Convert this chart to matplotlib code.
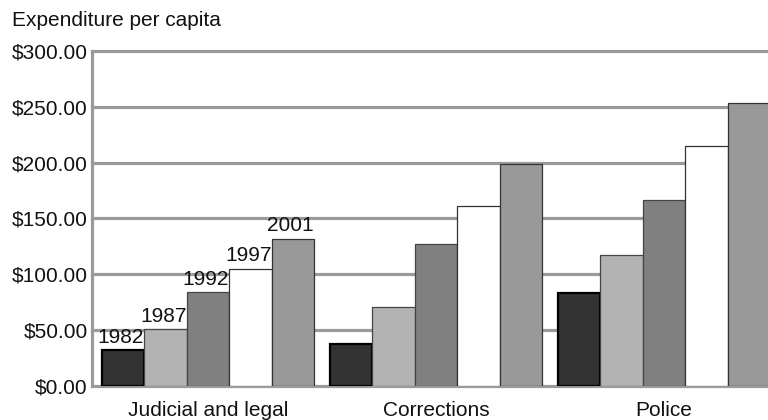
import matplotlib.pyplot as plt
import numpy as np

plt.rcParams['font.family'] = ['Liberation Sans', 'DejaVu Sans']

categories = ["Judicial and legal", "Corrections", "Police"]
years = ["1982", "1987", "1992", "1997", "2001"]
values = {
  "1982": [32, 38, 83],
  "1987": [51, 71, 117],
  "1992": [84, 127, 167],
  "1997": [105, 161, 215],
  "2001": [132, 199, 253],
}
y_ticks = [0, 50, 100, 150, 200, 250, 300]

colors = ["#333333", "#b3b3b3", "#808080", "#ffffff", "#999999"]
edges = ["#000000", "#444444", "#444444", "#333333", "#333333"]
edge_widths = [1.6, 0.9, 0.9, 0.9, 0.9]

FS = 15

def main():
  fig = plt.figure(figsize=(7.68, 4.2), dpi=100)
  ax = fig.add_axes([92 / 768, 1 - 386 / 420, 1 - 92 / 768, (386 - 51) / 420])

  x = np.arange(len(categories))
  width = 0.186

  for i, year in enumerate(years):
    pos = x + (i - 2) * width
    ax.bar(pos, values[year], width=width, color=colors[i],
           edgecolor=edges[i], linewidth=edge_widths[i], zorder=3)
    # year label over the first group only
    ax.text(pos[0] - 0.01, values[year][0] + 3, year, ha='center', va='bottom',
            fontsize=FS, color='#111111', zorder=4)

  ax.set_xlim(-0.509, 2.456)
  ax.set_ylim(0, 300)

  # grid
  ax.set_yticks(y_ticks)
  ax.set_yticklabels([f"${v:.2f}" for v in y_ticks], fontsize=FS, color='#111111')
  ax.yaxis.grid(True, color='#9a9a9a', linewidth=2.3, zorder=0)
  for line in ax.get_ygridlines():
    line.set_clip_on(False)
  ax.set_axisbelow(True)

  ax.set_xticks(x)
  ax.set_xticklabels(categories, fontsize=FS, color='#111111')
  ax.tick_params(axis='both', length=0)
  ax.tick_params(axis='y', pad=3)
  ax.tick_params(axis='x', pad=11)

  for side in ['top', 'right', 'bottom']:
    ax.spines[side].set_visible(False)
  ax.spines['left'].set_color('#9a9a9a')
  ax.spines['left'].set_linewidth(2.3)

  fig.text(12 / 768, 1 - 20 / 420, "Expenditure per capita", fontsize=FS,
           va='center', ha='left', color='#111111')

  fig.savefig("out.png", dpi=100)

if __name__ == "__main__":
  main()
